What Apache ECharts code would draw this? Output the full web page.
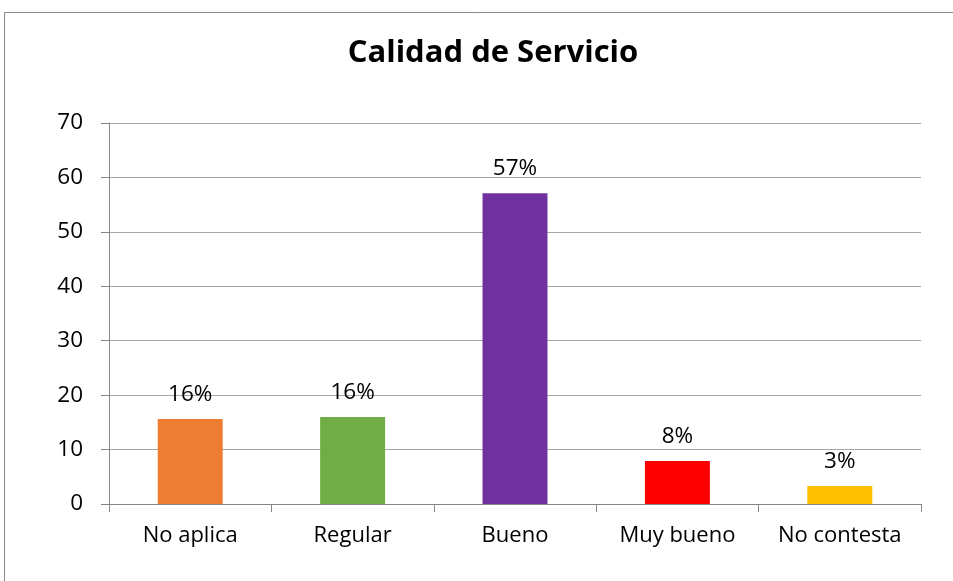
<!DOCTYPE html>
<html>
<head>
<meta charset="utf-8">
<script src="https://cdn.jsdelivr.net/npm/echarts@6/dist/echarts.min.js"></script>
<style>
  html, body { margin: 0; padding: 0; background: #fff; }
  #chart { width: 953px; height: 581px; }
</style>
</head>
<body>
<div id="chart"></div>
<script>
var categories = ['No aplica', 'Regular', 'Bueno', 'Muy bueno', 'No contesta']
var values = [15.6, 16.0, 57.1, 7.9, 3.3]
var barColors = ['#ED7D31', '#70AD47', '#7030A0', '#FF0000', '#FFC000']

var font = '"Open Sans", Lato, sans-serif'
var chart = echarts.init(document.getElementById('chart'))
chart.setOption({
    animation: false,
    graphic: [{
        type: 'rect',
        shape: { x: 4.5, y: 12.5, width: 1200, height: 1200 },
        style: { fill: 'none', stroke: '#888', lineWidth: 1 },
        silent: true
    }],
    title: {
        text: 'Calidad de Servicio',
        left: 488,
        top: 33,
        textAlign: 'center',
        textStyle: { fontFamily: font, fontSize: 31, fontWeight: 'bold', color: '#000' }
    },
    grid: { left: 109, right: 32, top: 123, bottom: 77 },
    xAxis: {
        type: 'category',
        data: categories,
        axisLine: { lineStyle: { color: '#868686' } },
        axisTick: { show: true, interval: 0, length: 8, lineStyle: { color: '#868686' } },
        axisLabel: { interval: 0, hideOverlap: false, color: '#000', fontFamily: font, fontSize: 22, margin: 21 }
    },
    yAxis: {
        type: 'value',
        min: 0,
        max: 70,
        interval: 10,
        axisLine: { show: true, lineStyle: { color: '#868686' } },
        axisTick: { show: true, length: 8, lineStyle: { color: '#868686' } },
        axisLabel: { color: '#000', fontFamily: font, fontSize: 22.5, margin: 26 },
        splitLine: { lineStyle: { color: '#a6a6a6' } }
    },
    series: [{
        type: 'bar',
        barWidth: '40%',
        data: values.map(function (v, i) {
            return { value: v, itemStyle: { color: barColors[i] } }
        }),
        label: {
            show: true,
            position: 'top',
            distance: 13,
            color: '#000',
            fontFamily: font,
            fontSize: 22.5,
            formatter: function (p) { return Math.round(p.value) + '%' }
        }
    }]
})
</script>
</body>
</html>
